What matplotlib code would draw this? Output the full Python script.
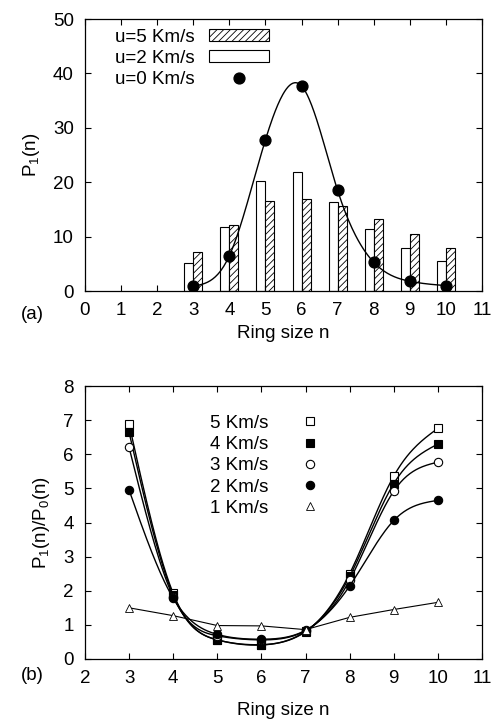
import numpy as np
import matplotlib
matplotlib.use("Agg")
import matplotlib.pyplot as plt
from matplotlib.patches import Patch
from matplotlib.lines import Line2D

plt.rcParams['font.family'] = ['Liberation Sans', 'DejaVu Sans']
plt.rcParams['mathtext.fontset'] = 'custom'
plt.rcParams['mathtext.rm'] = 'Liberation Sans'
plt.rcParams['mathtext.it'] = 'Liberation Sans'
plt.rcParams['hatch.linewidth'] = 0.6

# panel (a): ring size distribution P1(n)
n_a = [3, 4, 5, 6, 7, 8, 9, 10]
p_u5 = [7.1, 12.2, 16.5, 17.0, 15.6, 13.2, 10.4, 7.85]
p_u2 = [5.15, 11.8, 20.3, 21.8, 16.3, 11.4, 7.9, 5.5]
p_u0 = [0.9, 6.5, 27.8, 37.7, 18.5, 5.3, 1.8, 1.0]

# panel (b): ratio P1(n)/P0(n)
n_b = [3, 4, 5, 6, 7, 8, 9, 10]
r5 = [6.88, 1.92, 0.56, 0.42, 0.80, 2.50, 5.36, 6.76]
r4 = [6.64, 1.87, 0.56, 0.41, 0.81, 2.42, 5.14, 6.30]
r3 = [6.20, 1.82, 0.68, 0.56, 0.83, 2.31, 4.92, 5.77]
r2 = [4.95, 1.78, 0.72, 0.58, 0.84, 2.14, 4.06, 4.65]
r1 = [1.50, 1.27, 0.98, 0.97, 0.86, 1.22, 1.45, 1.66]


def cspline(x, y, num=300):
    # natural cubic spline, like gnuplot's "smooth csplines"
    x = np.asarray(x, float)
    y = np.asarray(y, float)
    n = len(x)
    h = np.diff(x)
    A = np.zeros((n, n))
    b = np.zeros(n)
    A[0, 0] = A[-1, -1] = 1
    for i in range(1, n - 1):
        A[i, i - 1] = h[i - 1]
        A[i, i] = 2 * (h[i - 1] + h[i])
        A[i, i + 1] = h[i]
        b[i] = 6 * ((y[i + 1] - y[i]) / h[i] - (y[i] - y[i - 1]) / h[i - 1])
    M = np.linalg.solve(A, b)
    xs = np.linspace(x[0], x[-1], num)
    k = np.clip(np.searchsorted(x, xs) - 1, 0, n - 2)
    t1 = x[k + 1] - xs
    t0 = xs - x[k]
    hk = h[k]
    ys = (M[k] * t1**3 + M[k + 1] * t0**3) / (6 * hk) \
        + (y[k] / hk - M[k] * hk / 6) * t1 + (y[k + 1] / hk - M[k + 1] * hk / 6) * t0
    return xs, ys


fs = 13.5
fig = plt.figure(figsize=(4.95, 7.24), dpi=100)
ax1 = fig.add_axes([0.1717, 0.598, 0.802, 0.3757])
ax2 = fig.add_axes([0.1717, 0.0898, 0.802, 0.377])

# --- panel (a)
w = 0.25
xa = np.array(n_a)
ax1.bar(xa - w / 2, p_u2, width=w, color='white', edgecolor='black', linewidth=0.8)
ax1.bar(xa + w / 2, p_u5, width=w, color='white', edgecolor='black', linewidth=0.8,
        hatch='/////')
xs, ys = cspline(n_a, p_u0)
ax1.plot(xs, ys, color='black', lw=1.0)
ax1.plot(n_a, p_u0, 'o', color='black', ms=7.8)

ax1.set_xlim(0, 11)
ax1.set_ylim(0, 50)
ax1.set_xticks(range(0, 12))
ax1.set_yticks(range(0, 51, 10))
ax1.set_xlabel('Ring size n', fontsize=fs, labelpad=4)
ax1.set_ylabel(r'P$_1$(n)', fontsize=fs, labelpad=8)
ax1.text(-0.133, -0.088, '(a)', transform=ax1.transAxes, fontsize=fs,
         ha='center', va='center')

handles = [Patch(facecolor='white', edgecolor='black', hatch='/////', lw=0.8),
           Patch(facecolor='white', edgecolor='black', lw=0.8),
           Line2D([], [], ls='none', marker='o', color='black', ms=7.8)]
ax1.legend(handles, ['u=5 Km/s', 'u=2 Km/s', 'u=0 Km/s'], loc='upper left',
           bbox_to_anchor=(0.075, 0.965), frameon=False, markerfirst=False,
           fontsize=fs, handlelength=3.2, handleheight=0.6, handletextpad=0.8,
           labelspacing=0.22, borderpad=0, borderaxespad=0)

# --- panel (b)
series = [(r5, 's', 'white', '5 Km/s'),
          (r4, 's', 'black', '4 Km/s'),
          (r3, 'o', 'white', '3 Km/s'),
          (r2, 'o', 'black', '2 Km/s')]
for vals, mk, fc, lab in series:
    xs, ys = cspline(n_b, vals)
    ax2.plot(xs, ys, color='black', lw=1.0)
    ax2.plot(n_b, vals, ls='none', marker=mk, mfc=fc, mec='black', mew=0.8,
             ms=6, label=lab)
ax2.plot(n_b, r1, color='black', lw=0.8)
ax2.plot(n_b, r1, ls='none', marker='^', mfc='white', mec='black', mew=0.6,
         ms=5.5, label='1 Km/s')

ax2.set_xlim(2, 11)
ax2.set_ylim(0, 8)
ax2.set_xticks(range(2, 12))
ax2.set_yticks(range(0, 9))
ax2.set_xlabel('Ring size n', fontsize=fs, labelpad=11)
ax2.set_ylabel(r'P$_1$(n)/P$_0$(n)', fontsize=fs, labelpad=8)
ax2.text(-0.133, -0.059, '(b)', transform=ax2.transAxes, fontsize=fs,
         ha='center', va='center')
ax2.legend(loc='upper left', bbox_to_anchor=(0.315, 0.895), frameon=False,
           markerfirst=False, fontsize=fs, handlelength=2.0, handletextpad=1.2,
           labelspacing=0.22, borderpad=0, borderaxespad=0)

for ax in (ax1, ax2):
    ax.tick_params(direction='in', top=True, right=True, length=4, width=0.8,
                   labelsize=fs, pad=8)
    for sp in ax.spines.values():
        sp.set_linewidth(0.9)

fig.savefig('out.png', dpi=100)
